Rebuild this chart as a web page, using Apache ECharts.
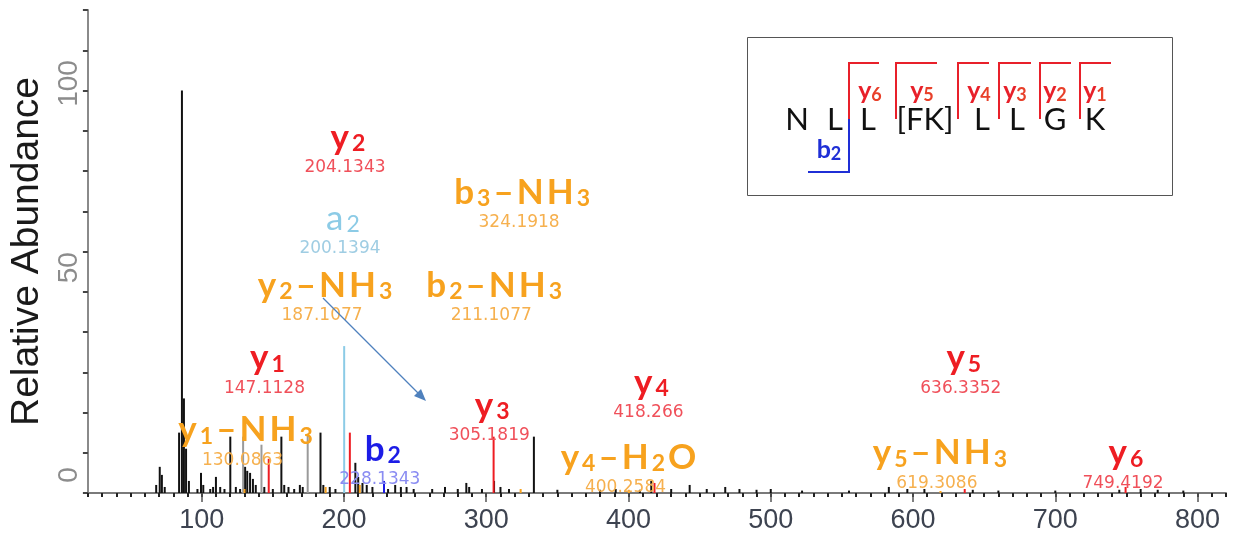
<!DOCTYPE html>
<html><head><meta charset="utf-8">
<script src="https://cdn.jsdelivr.net/npm/echarts@6/dist/echarts.min.js"></script>
<style>html,body{margin:0;padding:0;background:#fff}#c{width:1235px;height:544px}</style>
</head><body><div id="c"></div>
<script>
// ---- data ----
const xTickLabels = [100, 200, 300, 400, 500, 600, 700, 800];
const yTickLabels = [0, 50, 100];
const blackPeaks = [[68,2],[70.5,6.5],[72,4.5],[74,1.5],[84.1,15],[86.1,100],[87.5,23.5],[89,11],[91,3],[97,1],[99.5,5],[101.1,2],[106,1],[108,1.5],[110,4],[113,1.5],[116,1],[120.1,14],[124,1.5],[127,1],[130.5,6.5],[132,5.5],[134,5],[136,3.5],[138,2],[144,1.5],[150,1],[156,14],[158,2],[161,1.5],[165,1],[169,2],[171,1.5],[183.5,15],[185.5,2],[190,1.5],[194,1],[208,7.5],[210,4],[213,2.5],[216,2],[220,1.5],[231,1],[236,2],[240,1.5],[244,1.5],[249,1],[262,1],[271,1.5],[280,1],[286,2.5],[288,1.5],[297,1],[305.5,3],[310,1.5],[316,1],[333.5,14],[350,0.8],[380,0.8],[391,1],[408,0.8],[416,3],[430,1],[443,2],[455,1],[468,1.5],[478,1],[490,0.8],[500,1],[522,0.6],[555,0.6],[583,1.5],[596,1],[608,1],[642,0.8],[660,0.6],[700,0.6],[745,0.8],[760,1],[772,0.8],[790,0.6]];
const greyPeaks = [[129.1,14],[142,12],[174.5,14.5]];
const yIonPeaks = [[147.11,8.5],[204.13,15],[305.18,14],[418.27,2.5],[636.34,1],[749.42,1.5]];
const aIonPeaks = [[200.14,36.5]];
const bIonPeaks = [[228.13,3]];
const lossPeaks = [[130.09,1],[187.11,1.5],[211.11,2],[324.19,1],[400.26,0.8],[619.31,0.5]];
const ionNames = ['y2','a2','y2-NH3','b3-NH3','b2-NH3','y1','y1-NH3','b2','y3','y4','y4-H2O','y5','y5-NH3','y6'];
const ionMzText = ['204.1343','200.1394','187.1077','324.1918','211.1077','147.1128','130.0863','228.1343','305.1819','418.266','400.2584','636.3352','619.3086','749.4192'];
const ionKind = ['y','a','loss','loss','loss','y','loss','b','y','y','loss','y','loss','y'];
const sequence = ['N','L','L','[FK]','L','L','G','K'];
const seqYIons = ['y6','y5','y4','y3','y2','y1'];
// ---- layout (label anchor positions in axis units: m/z, abundance) ----
const ionLabelAt = [[202.8,88.3],[199.3,68.2],[186.7,51.6],[325.2,74.7],[305.6,51.6],[146.2,33.5],[130.8,15.6],[227.3,10.7],[304.2,21.8],[416.1,27.5],[400,8.7],[635.7,33.5],[618.9,9.9],[749.7,9.9]];

const kindStyle = {
  y:{name:'#ee1d23', num:'#f0505a', bold:true},
  a:{name:'#8ccbe6', num:'#9fcde3', bold:false},
  loss:{name:'#f7a21e', num:'#f6b04e', bold:true},
  b:{name:'#1c1ce6', num:'#8a8cf2', bold:true}
};

function richName(s){
  return s.replace('-', '\u2013').split('').map(t=>/\d/.test(t)?'{s|'+t+'}':'{m|'+t+'}').join('');
}

function stickSeries(data, color, width, z){
  return {type:'custom', data, z, silent:true, clip:false, encode:{x:0,y:1},
    renderItem:(p, api)=>{
      const a = api.coord([api.value(0),0]);
      const b = api.coord([api.value(0),api.value(1)]);
      return {type:'line', shape:{x1:a[0],y1:a[1],x2:b[0],y2:b[1]}, style:{stroke:color, lineWidth:width}};
    }};
}

const annotationSeries = {
  type:'custom', z:20, silent:true, clip:false, encode:{x:0,y:1},
  data: ionLabelAt.map((p,i)=>[p[0], p[1], i]),
  renderItem:(p, api)=>{
    const i = api.value(2);
    const c = api.coord([api.value(0), api.value(1)]);
    const k = kindStyle[ionKind[i]];
    const w = k.bold ? 'bold' : 'normal';
    return {type:'group', children:[
      {type:'text', x:c[0], y:c[1], style:{text:richName(ionNames[i]), align:'center', verticalAlign:'middle',
        rich:{m:{fill:k.name, fontSize:35, fontWeight:w, fontFamily:'Lato', verticalAlign:'bottom', padding:[0,1.5,0,1.5]},
              s:{fill:k.name, fontSize:23, fontWeight:w, fontFamily:'Lato', verticalAlign:'bottom', padding:[0,1.5,0,1.5]}}}},
      {type:'text', x:c[0]-3, y:c[1]+30, style:{text:ionMzText[i], fill:k.num, fontSize:17, fontFamily:'DejaVu Sans', align:'center', verticalAlign:'middle'}}
    ]};
  }
};

// legend box graphics
const seqX = [797,835,868,925,982,1017,1055,1095];
const bracket = [[849,879],[896,937],[958,989],[999,1031],[1040,1071],[1080,1111]];
const bracketLabelX = [870,922,979,1015,1055,1095];
const graphics = [
  {type:'rect', shape:{x:747.5,y:37.5,width:425,height:158}, style:{fill:'#fff', stroke:'#555', lineWidth:1}, z:1},
  {type:'line', shape:{x1:323,y1:298,x2:423,y2:398}, style:{stroke:'#4f81bd', lineWidth:1.2}, z:30},
  {type:'polygon', shape:{points:[[426,401],[414,396],[421,389]]}, style:{fill:'#4f81bd'}, z:30},
  {type:'polyline', shape:{points:[[849,118],[849,172],[808,172]]}, style:{stroke:'#1f2fd6', lineWidth:2, fill:null}, z:3},
  {type:'text', x:829, y:150, style:{text:'{m|b}{s|2}', align:'center', verticalAlign:'middle',
     rich:{m:{fill:'#1f2fd6', fontSize:25, fontWeight:'bold', fontFamily:'Lato'}, s:{fill:'#1f2fd6', fontSize:18, fontWeight:'bold', fontFamily:'Lato', padding:[8,0,0,0]}}}, z:3}
];
sequence.forEach((s,i)=>graphics.push({type:'text', x:seqX[i], y:120, style:{text:s, fill:'#111', fontSize:31, fontFamily:'Lato', align:'center', verticalAlign:'middle'}, z:3}));
bracket.forEach((b,i)=>{
  graphics.push({type:'polyline', shape:{points:[[b[0],119],[b[0],63],[b[1],63]]}, style:{stroke:'#e8202a', lineWidth:2, fill:null}, z:3});
  const n = seqYIons[i].slice(1);
  graphics.push({type:'text', x:bracketLabelX[i], y:91, style:{text:'{m|y}{s|'+n+'}', align:'center', verticalAlign:'middle',
     rich:{m:{fill:'#e8202a', fontSize:25, fontWeight:'bold', fontFamily:'Lato'}, s:{fill:'#e8402a', fontSize:18, fontWeight:'bold', fontFamily:'Lato', padding:[8,0,0,0]}}}, z:3});
});

const chart = echarts.init(document.getElementById('c'));
chart.setOption({
  animation:false,
  backgroundColor:'#fff',
  grid:{left:81, right:9, top:10, bottom:51, containLabel:false},
  xAxis:[{
    type:'value', min:20, max:820, interval:10,
    axisLine:{show:true, lineStyle:{color:'#7a7a7a', width:2}},
    axisTick:{show:true, length:4, lineStyle:{color:'#222', width:2}},
    splitLine:{show:false},
    axisLabel:{margin:14, fontSize:27, color:'#3d4350', fontFamily:'Liberation Sans',
      formatter:v=>xTickLabels.includes(v)?String(v):''}
  },{
    type:'value', min:20, max:820, position:'bottom',
    axisLine:{show:false}, splitLine:{show:false}, axisLabel:{show:false},
    axisTick:{show:true, length:9, lineStyle:{color:'#555', width:1.5}, customValues:xTickLabels}
  }],
  yAxis:{
    type:'value', min:0, max:120, interval:10,
    name:'Relative Abundance', nameLocation:'middle', nameGap:31, nameRotate:90,
    nameTextStyle:{fontSize:39, color:'#1a1a1a', fontFamily:'Liberation Sans'},
    axisLine:{show:true, lineStyle:{color:'#8a8a8a', width:2}},
    axisTick:{show:true, length:5, lineStyle:{color:'#444', width:2}},
    splitLine:{show:false},
    axisLabel:{rotate:90, margin:5, fontSize:28, color:'#8c8c8c', fontFamily:'Liberation Sans', align:'center', verticalAlign:'bottom',
      formatter:v=>yTickLabels.includes(v)?'{l'+v+'|'+v+'}':'',
      rich:{l0:{padding:[0,0,0,36]}, l50:{padding:[0,0,0,48]}, l100:{padding:[0,0,0,14]}}}
  },
  series:[
    stickSeries(blackPeaks, '#111', 2, 2),
    stickSeries(greyPeaks, '#9a9a9a', 2, 3),
    stickSeries(lossPeaks, '#f7a21e', 2, 4),
    stickSeries(aIonPeaks, '#8ccbe6', 2, 5),
    stickSeries(bIonPeaks, '#1c1ce6', 2, 5),
    stickSeries(yIonPeaks, '#ee1d23', 2, 6),
    annotationSeries
  ],
  graphic:graphics
});
</script></body></html>
